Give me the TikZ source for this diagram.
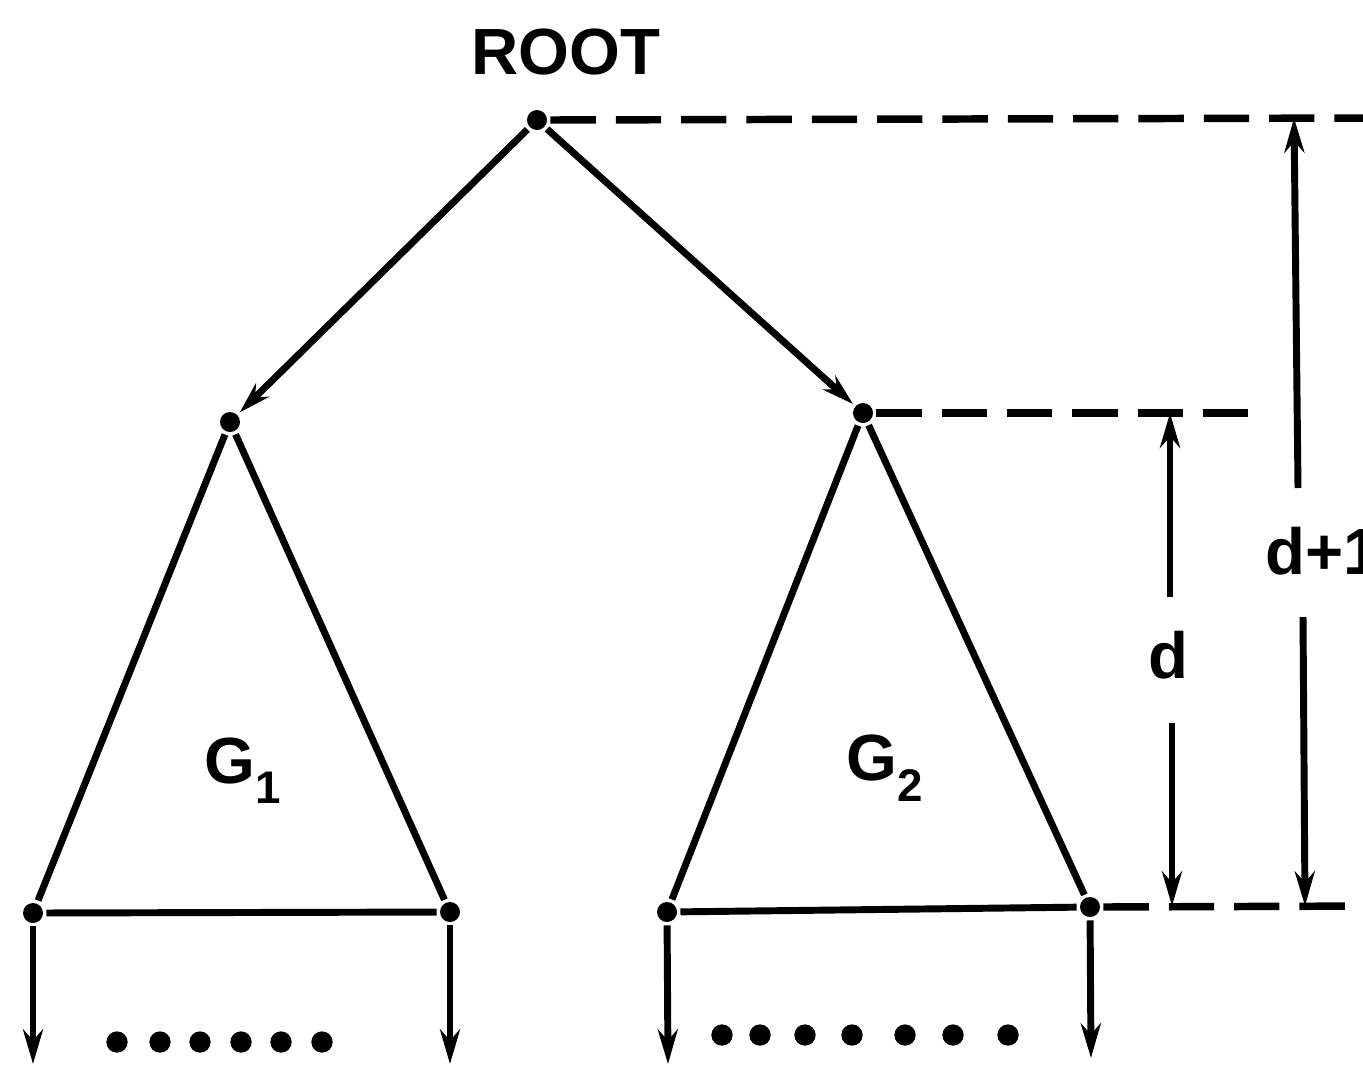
\documentclass[tikz,border=0pt]{standalone}
\usepackage{fontspec}
\setmainfont{Liberation Sans}
\usetikzlibrary{arrows.meta}
\begin{document}
\begin{tikzpicture}[x=0.75pt,y=-0.75pt,
  line width=5.2pt, line join=round,
  vtx/.style={circle, fill=black, inner sep=0pt, minimum size=15pt},
  edge/.style={-{Stealth[length=24pt,width=14pt]}},
  guide/.style={dash pattern=on 34pt off 15pt, line width=5.6pt},
  dim/.style={-{Stealth[length=26pt,width=15pt]}},
  lbl/.style={font=\fontsize{49}{58}\selectfont\bfseries, inner sep=0pt},
  dotmark/.style={circle, fill=black, inner sep=0pt, minimum size=16pt}]
\useasboundingbox (0,0) rectangle (1363,1068);

% tree vertices
\node[vtx] (root) at (537,120) {};
\node[vtx] (c1) at (230,422) {};
\node[vtx] (c2) at (863,413) {};
\node[vtx] (l1) at (33,913) {};
\node[vtx] (r1) at (450,912) {};
\node[vtx] (l2) at (667,912) {};
\node[vtx] (r2) at (1090,907) {};

\node[lbl] (rootlbl) at (566,52) {ROOT};
\node[lbl] (g1) at (243,771) {G$_{\mathbf 1}$};
\node[lbl] (g2) at (885,768) {G$_{\mathbf 2}$};

% edges from the root
\draw[edge] (root) -- (c1);
\draw[edge] (root) -- (c2);

% subtrees
\draw (c1) -- (l1) -- (r1) -- (c1);
\draw (c2) -- (l2) -- (r2) -- (c2);

% outgoing leaves
\coordinate (l1e) at (33,1064);
\coordinate (r1e) at (450,1064);
\coordinate (l2e) at (668,1064);
\coordinate (r2e) at (1091,1058);
\draw[dim] (l1) -- (l1e);
\draw[dim] (r1) -- (r1e);
\draw[dim] (l2) -- (l2e);
\draw[dim] (r2) -- (r2e);

\foreach \x in {117,160,200,241,281,322}
  \node[dotmark] at (\x,1042) {};
\foreach \x in {722,760,805,852,905,953,1008}
  \node[dotmark] at (\x,1035) {};

% depth guides
\coordinate (g0) at (1375,118);
\coordinate (gm) at (1255,413);
\coordinate (gb) at (1375,906);
\draw[guide] (root.east) -- (g0);
\draw[guide] (c2.east) -- (gm);
\draw[guide] (r2.east) -- (gb);

% depth d
\node[lbl] (dlab) at (1168,655) {d};
\coordinate (dt) at (1170,413);
\coordinate (dtu) at (1170,597);
\coordinate (db) at (1172,906);
\coordinate (dbu) at (1172,723);
\draw[dim] (dtu) -- (dt);
\draw[dim] (dbu) -- (db);

% depth d+1
\node[lbl, anchor=west] (d1lab) at (1262,551) {d+1};
\coordinate (et) at (1294,118);
\coordinate (etu) at (1298,488);
\coordinate (eb) at (1305,906);
\coordinate (ebu) at (1303,617);
\draw[dim] (etu) -- (et);
\draw[dim] (ebu) -- (eb);
\end{tikzpicture}
\end{document}
